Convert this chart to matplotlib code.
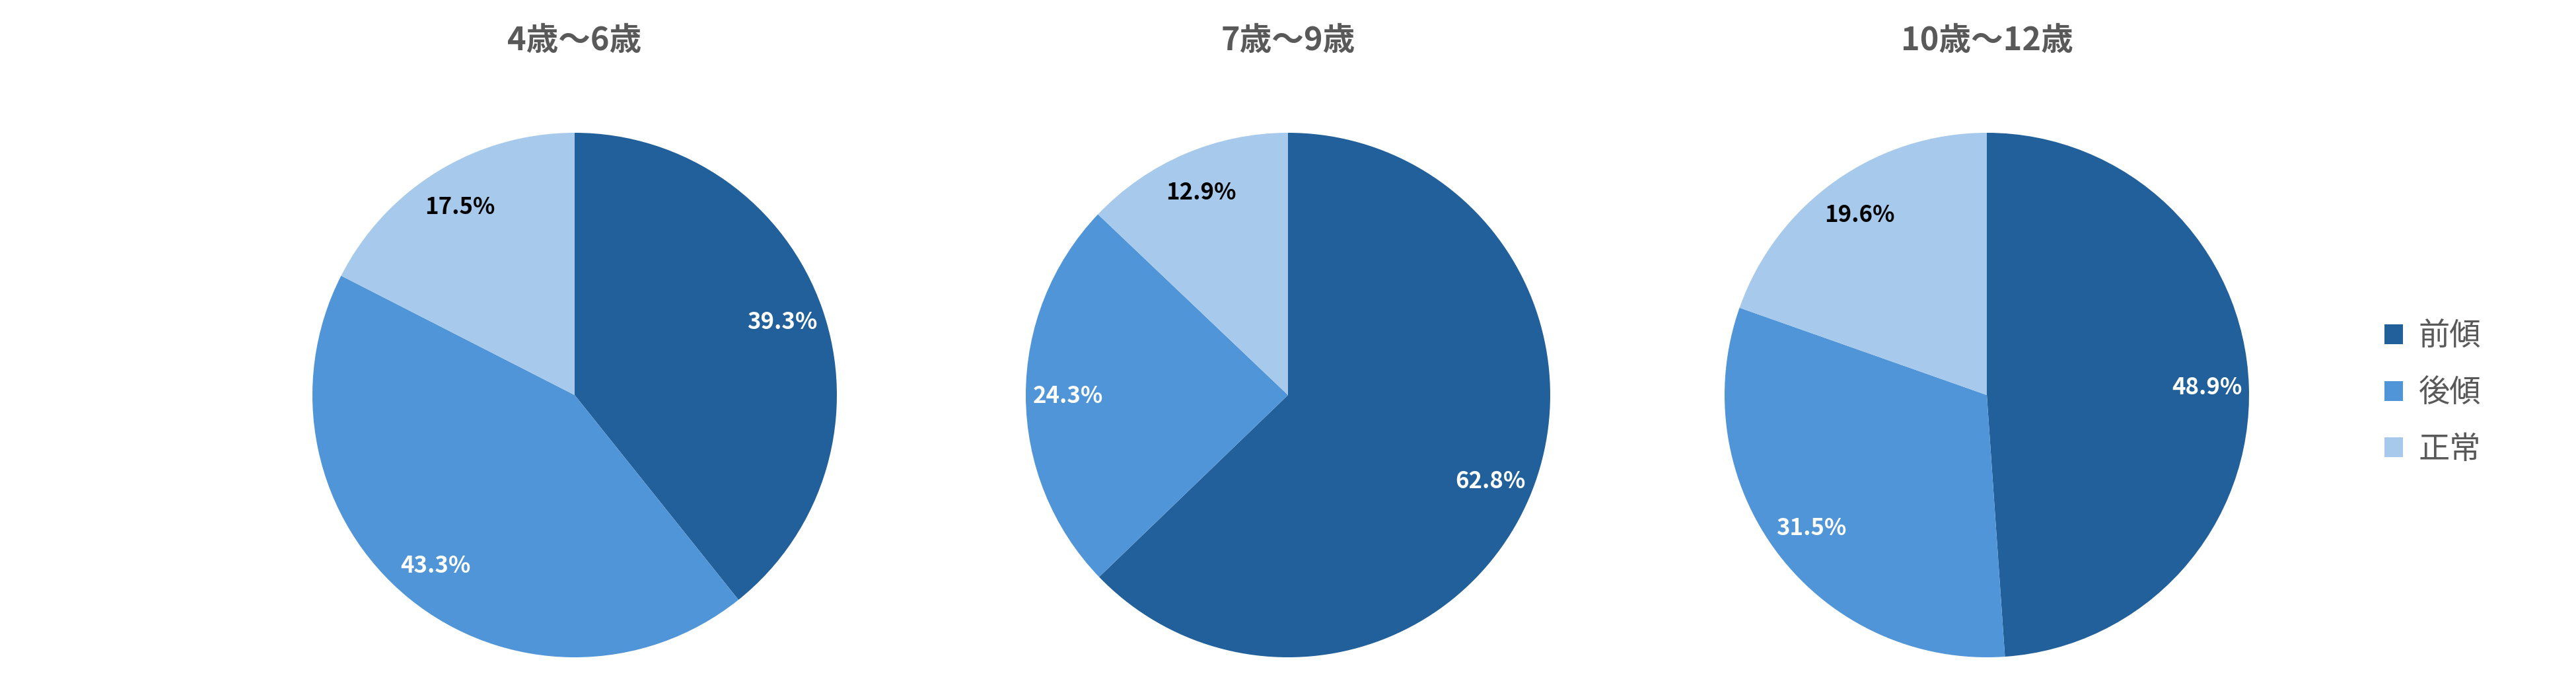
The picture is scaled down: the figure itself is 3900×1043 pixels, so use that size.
import math
import matplotlib
matplotlib.use("Agg")
import matplotlib.pyplot as plt
from matplotlib.patches import Patch

plt.rcParams['font.family'] = ['Noto Sans CJK JP', 'DejaVu Sans']

# ---- data ----
categories = ['前傾', '後傾', '正常']
titles = ['4歳〜6歳', '7歳〜9歳', '10歳〜12歳']
values_4_6 = [39.3, 43.3, 17.5]
values_7_9 = [62.8, 24.3, 12.9]
values_10_12 = [48.9, 31.5, 19.6]
all_values = [values_4_6, values_7_9, values_10_12]

colors = ['#22609B', '#5095D8', '#A7CAEC']
label_colors = ['white', 'white', 'black']
title_color = '#595959'

W, H, DPI = 3900, 1043, 100
fig = plt.figure(figsize=(W / DPI, H / DPI), dpi=DPI)
fig.patch.set_facecolor('white')

centers_x = [870, 1950, 3008]
center_y = 598
radius = 397

for cx, vals, title in zip(centers_x, all_values, titles):
    ax = fig.add_axes([(cx - radius) / W, (H - center_y - radius) / H,
                       2 * radius / W, 2 * radius / H])
    labels_txt = ['%.1f%%' % v for v in vals]
    wedges, _ = ax.pie(vals, colors=colors, startangle=90, counterclock=False,
                       radius=1.0, wedgeprops=dict(linewidth=0))
    total = sum(vals)
    cum = 0.0
    for v, t, lc in zip(vals, labels_txt, label_colors):
        mid = 90 - (cum + v / 2) / total * 360
        cum += v
        r = 0.84
        ax.text(r * math.cos(math.radians(mid)), r * math.sin(math.radians(mid)), t,
                ha='center', va='center', fontsize=25, fontweight='bold', color=lc)
    ax.set_xlim(-1, 1)
    ax.set_ylim(-1, 1)
    ax.set_aspect('equal')
    ax.axis('off')
    fig.text(cx / W, 1 - 62 / H, title, ha='center', va='center',
             fontsize=35, fontweight='bold', color=title_color)

handles = [Patch(facecolor=c, edgecolor='none') for c in colors]
fig.legend(handles, categories, loc='center left',
           bbox_to_anchor=(3610 / W, 1 - 595 / H), frameon=False,
           fontsize=34, handlelength=0.6, handleheight=0.6,
           handletextpad=0.5, labelspacing=0.78, borderpad=0, borderaxespad=0,
           labelcolor=title_color)

fig.savefig('out.png', dpi=DPI, facecolor='white')
